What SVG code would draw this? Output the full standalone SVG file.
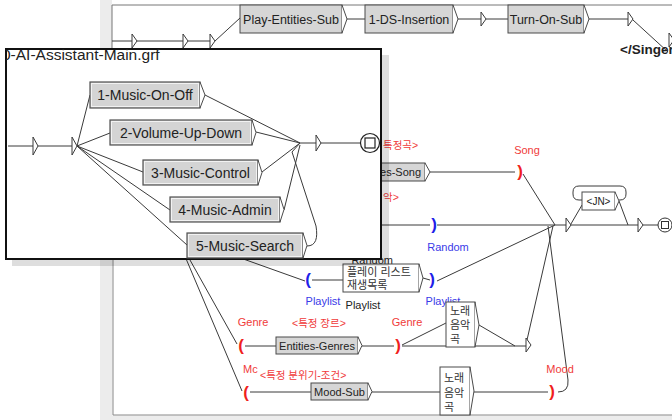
<svg xmlns="http://www.w3.org/2000/svg" width="672" height="420" viewBox="0 0 672 420">
<defs>
<style>
.ln{fill:none;stroke:#3a3a3a;stroke-width:1}
.box{fill:#d6d6d6;stroke:#4a4a4a;stroke-width:1}
.ibox{fill:#d4d4d4;stroke:#505050;stroke-width:1.2}
.wbox{fill:#fff;stroke:#4a4a4a;stroke-width:1}
.tip{fill:#fff;stroke:#4a4a4a;stroke-width:1}
.tri{fill:#fff;stroke:#3a3a3a;stroke-width:1}
.t{font-family:"Liberation Sans",Arial,sans-serif;fill:#222}
.k{font-family:"Liberation Sans","Noto Sans CJK KR",sans-serif;fill:#333}
.red{fill:#f03a3a}
.blue{fill:#3a3ae8}
.pr{font-family:"Liberation Sans",Arial,sans-serif;font-weight:bold;font-size:17px;fill:#f01e1e;text-anchor:middle}
.pb{font-family:"Liberation Sans",Arial,sans-serif;font-weight:bold;font-size:17px;fill:#1e1ee8;text-anchor:middle}
.shade{fill:#ececec}
.mid{text-anchor:middle}
</style>
<clipPath id="insetClip"><rect x="6" y="49" width="375" height="210"/></clipPath>
</defs>
<rect width="672" height="420" fill="#fff"/>

<!-- top panel -->
<g id="top-panel">
<rect class="shade" x="100" y="0" width="12" height="48"/>
<path d="M112,48 V5 H672" fill="none" stroke="#777" stroke-width="1"/>
</g>
<g id="top-connectors">
<path class="ln" d="M112,41 H132 M137,41 H183 M188,41 H210 M215,41 L240,18 M347,19 H365 M458,19 H481 M486,19 H508 M589,19 H628 M633,20 L668,52"/>
</g>
<g id="top-n1"><polygon class="tri" points="132,34 137,41 132,48"/></g>
<g id="top-n2"><polygon class="tri" points="183,34 188,41 183,48"/></g>
<g id="top-n3"><polygon class="tri" points="210,34 215,41 210,48"/></g>
<g id="play-entities-sub"><rect class="box" x="240" y="5" width="102" height="28"/><polyline class="tip" points="342,5 347,19 342,33"/><text class="t mid" x="291" y="23.5" font-size="12.5">Play-Entities-Sub</text></g>
<g id="ds-insertion"><rect class="box" x="365" y="5" width="88" height="28"/><polyline class="tip" points="453,5 458,19 453,33"/><text class="t mid" x="409" y="23.5" font-size="12.5">1-DS-Insertion</text></g>
<g id="top-n4"><polygon class="tri" points="481,12 486,19 481,26"/></g>
<g id="turn-on-sub"><rect class="box" x="508" y="5" width="76" height="28"/><polyline class="tip" points="584,5 589,19 584,33"/><text class="t mid" x="546" y="23.5" font-size="12.5">Turn-On-Sub</text></g>
<g id="top-n5"><polygon class="tri" points="628,12 633,19 628,26"/></g>
<g id="top-n6"><polygon class="tri" points="669,33 674,40 669,47"/></g>
<g id="singer"><text class="t" x="620" y="54" font-size="13.5" font-weight="bold" fill="#000">&lt;/Singer&gt;</text></g>

<!-- lower panel -->
<g id="lower-panel">
<rect class="shade" x="100" y="48" width="12.5" height="372"/>
<rect class="shade" x="100" y="415.5" width="572" height="4.5"/>
<path d="M113,48 V415 H672" fill="none" stroke="#888" stroke-width="1"/>
</g>

<g id="lower-connectors">
<path class="ln" d="M430,172 H515 M523,174 L555,225 M381,225 H430 M437,225 H566 M571,225 H638 M643,225 H658 M568,229 L582,205 M619,201 L628,225 M437,281 L555,225 M553,226 L527,340 M548,226 L568,380 Q569,392 558,392 M176,235 L305,281 M176,235 L237,344 M176,235 L242,391 M312,280 H343 M423,278 L430,280 M245,346 H276 M362,346 H394 M402,346 H526 M402,345 L446,323 M479,325 L515,346 M250,392 H311 M372,392 H440 M474,392 H548"/>
<path class="ln" d="M582,200 H579 Q573,200 573,194 V192 Q573,186 579,186 H620 Q626,186 626,192 V194 Q626,200 620,200 H619"/>
</g>

<g id="entities-song"><rect class="box" x="340" y="163" width="85" height="18"/><polyline class="tip" points="425,163 430,172 425,181"/><text class="t" x="421" y="176" font-size="11" text-anchor="end">ies-Song</text></g>
<g id="lbl-song"><text class="k red" x="383" y="149" font-size="10.5">특정곡&gt;</text><text class="t red mid" x="527" y="154" font-size="11">Song</text><text class="pr" x="520" y="176.5">)</text></g>
<g id="lbl-random"><text class="k red" x="383" y="201" font-size="10.5">악&gt;</text><text class="pb" x="434" y="229.5">)</text><text class="t blue mid" x="448" y="251" font-size="11">Random</text></g>
<g id="n-merge1"><polygon class="tri" points="566,218 571,225 566,232"/></g>
<g id="jn"><rect class="wbox" x="582" y="192" width="33" height="18"/><polyline class="tip" points="615,192 619,201 615,210"/><text class="t mid" x="598.5" y="205" font-size="10" fill="#555">&lt;JN&gt;</text></g>
<g id="n-merge2"><polygon class="tri" points="638,218 643,225 638,232"/></g>
<g id="final"><circle cx="665" cy="225" r="7" fill="#fff" stroke="#333"/><rect x="661.5" y="221.5" width="7" height="7" fill="none" stroke="#333"/></g>

<g id="playlist">
<text class="t" x="393" y="264" font-size="11" fill="#777" text-anchor="end">Random</text>
<text class="pb" x="308" y="285">(</text>
<rect class="wbox" x="343" y="264" width="76" height="28"/><polyline class="tip" points="419,264 423,278 419,292"/>
<text class="k" x="347" y="276" font-size="11">플레이 리스트</text>
<text class="k" x="347" y="289" font-size="11">재생목록</text>
<text class="pb" x="432" y="285">)</text>
<text class="t blue mid" x="323" y="305" font-size="11">Playlist</text>
<text class="t mid" x="363" y="309" font-size="11" fill="#333">Playlist</text>
<text class="t blue mid" x="443" y="305" font-size="11">Playlist</text>
</g>

<g id="genre">
<text class="t red mid" x="253" y="326" font-size="11">Genre</text>
<text class="k red" x="292" y="327" font-size="10.5">&lt;특정 장르&gt;</text>
<text class="pr" x="241" y="350.5">(</text>
<rect class="box" x="276" y="337" width="82" height="17"/><polyline class="tip" points="358,337 362,345.5 358,354"/>
<text class="t mid" x="317" y="349.5" font-size="11">Entities-Genres</text>
<text class="pr" x="398" y="350.5">)</text>
<text class="t red mid" x="407" y="326" font-size="11">Genre</text>
</g>
<g id="song-box1"><rect class="wbox" x="446" y="302" width="29" height="45"/><polyline class="tip" points="475,302 479,325 475,347"/>
<text class="k" x="450" y="315" font-size="11">노래</text><text class="k" x="450" y="329" font-size="11">음악</text><text class="k" x="450" y="343" font-size="11">곡</text></g>
<g id="n-genre-end"><polygon class="tri" points="526,338 531,345 526,352"/></g>

<g id="mood">
<text class="t red" x="243" y="373" font-size="11">Mc</text>
<text class="k red" x="260" y="379" font-size="10.5">&lt;특정 분위기-조건&gt;</text>
<text class="pr" x="246" y="397.5">(</text>
<rect class="box" x="311" y="383" width="57" height="17"/><polyline class="tip" points="368,383 372,391.5 368,400"/>
<text class="t mid" x="339.5" y="395.5" font-size="11">Mood-Sub</text>
<text class="pr" x="552" y="397">)</text>
<text class="t red mid" x="560" y="373" font-size="11">Mood</text>
</g>
<g id="song-box2"><rect class="wbox" x="440" y="367" width="30" height="48"/><polyline class="tip" points="470,367 474,391 470,415"/>
<text class="k" x="444" y="382" font-size="11">노래</text><text class="k" x="444" y="397" font-size="11">음악</text><text class="k" x="444" y="411" font-size="11">곡</text></g>

<!-- inset -->
<g id="inset">
<rect x="12" y="55" width="377" height="211" fill="#000" opacity="0.13"/>
<rect x="6" y="49" width="375" height="210" fill="#fff" stroke="#111" stroke-width="2"/>
<text class="t" x="2" y="60" font-size="15.5" fill="#f02020" clip-path="url(#insetClip)">0-AI-Assistant-Main.grf</text>
</g>
<g id="inset-connectors">
<path class="ln" d="M8,146 H33 M38,146 H72 M77,146 L90,95 M77,146 L110,133 M77,146 L143,172 M77,146 L170,210 M77,146 L187,245 M205,95 L300,143 M256,132 L300,143 M262,172 L300,143 M284,210 L300,145 M307,246 C316,246 318,238 316,226 L292,152 L300,143 M300,143 H316 M321,143 H360"/>
</g>
<g id="inset-n1"><polygon class="tri" points="33,137 38,146 33,155"/></g>
<g id="inset-n2"><polygon class="tri" points="72,137 77,146 72,155"/></g>
<g id="music-on-off"><rect class="ibox" x="90" y="82" width="110" height="26"/><rect x="91.5" y="83.5" width="107" height="23" fill="none" stroke="#f2f2f2" stroke-width="1"/><polyline class="tip" points="200,82 205,95 200,108"/><text class="t mid" x="145" y="100" font-size="14">1-Music-On-Off</text></g>
<g id="volume-up-down"><rect class="ibox" x="110" y="120" width="142" height="25"/><rect x="111.5" y="121.5" width="139" height="22" fill="none" stroke="#f2f2f2" stroke-width="1"/><polyline class="tip" points="252,120 256,132.5 252,145"/><text class="t mid" x="181" y="137.5" font-size="14">2-Volume-Up-Down</text></g>
<g id="music-control"><rect class="ibox" x="143" y="160" width="115" height="25"/><rect x="144.5" y="161.5" width="112" height="22" fill="none" stroke="#f2f2f2" stroke-width="1"/><polyline class="tip" points="258,160 262,172.5 258,185"/><text class="t mid" x="200.5" y="177.5" font-size="14">3-Music-Control</text></g>
<g id="music-admin"><rect class="ibox" x="170" y="197" width="110" height="25"/><rect x="171.5" y="198.5" width="107" height="22" fill="none" stroke="#f2f2f2" stroke-width="1"/><polyline class="tip" points="280,197 284,209.5 280,222"/><text class="t mid" x="225" y="214.5" font-size="14">4-Music-Admin</text></g>
<g id="music-search"><rect class="ibox" x="187" y="233" width="116" height="25"/><rect x="188.5" y="234.5" width="113" height="22" fill="none" stroke="#f2f2f2" stroke-width="1"/><polyline class="tip" points="303,233 307,245.5 303,258"/><text class="t mid" x="245" y="250.5" font-size="14">5-Music-Search</text></g>
<g id="inset-n3"><polygon class="tri" points="316,135 321,143 316,151"/></g>
<g id="inset-final"><circle cx="370" cy="143" r="9.5" fill="#fff" stroke="#222" stroke-width="1.2"/><rect x="365" y="138" width="10" height="10" fill="none" stroke="#222" stroke-width="1.2"/></g>
</svg>
